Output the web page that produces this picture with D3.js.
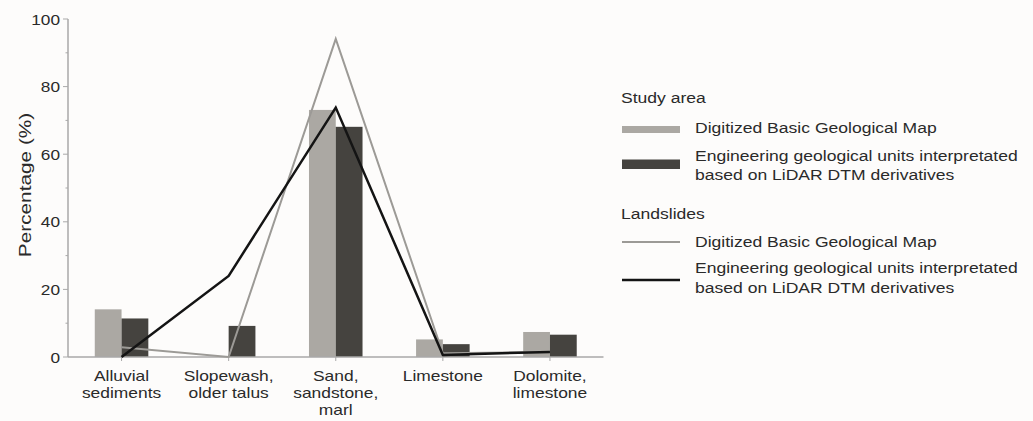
<!DOCTYPE html>
<html><head><meta charset="utf-8">
<script src="https://cdn.jsdelivr.net/npm/d3@7"></script>
<style>body{margin:0;background:#fdfcfb}svg{display:block}</style>
</head><body>
<script>
const categories = [["Alluvial","sediments"],["Slopewash,","older talus"],["Sand,","sandstone,","marl"],["Limestone"],["Dolomite,","limestone"]];
const studyDigitized = [14.1, 0, 73.1, 5.2, 7.4];
const studyEngineering = [11.4, 9.2, 68.1, 3.8, 6.6];
const slidesDigitized = [2.9, 0, 94.1, 1.1, 1.5];
const slidesEngineering = [0, 24.0, 73.8, 0.6, 1.5];
const yTicks = [0, 20, 40, 60, 80, 100];
const yMinorTicks = [10, 30, 50, 70, 90];
const legendStudy = ["Digitized Basic Geological Map", ["Engineering geological units interpretated","based on LiDAR DTM derivatives"]];
const legendSlides = ["Digitized Basic Geological Map", ["Engineering geological units interpretated","based on LiDAR DTM derivatives"]];

const W = 1033, H = 421;
const C = {light:"#aba8a3", dark:"#45433f", lineLight:"#9c9a96", lineDark:"#141414", axis:"#a9a9a9", text:"#2a2a2a"};
const FONT = "'Liberation Sans', Arial, sans-serif";
const svg = d3.select("body").append("svg").attr("width", W).attr("height", H);
svg.append("rect").attr("width", W).attr("height", H).attr("fill", "#fdfcfb");

const x0 = 68, x1 = 603.5, yTop = 19, yBot = 357;
const x = d3.scaleBand().domain(d3.range(categories.length)).range([x0, x1]).paddingInner(0).paddingOuter(0);
const y = d3.scaleLinear().domain([0, 100]).range([yBot, yTop]);
const barW = x.bandwidth() / 4;

function stext(g, tx, ty, str, size, sx, anchor, color) {
  const t = g.append("g").attr("transform", `translate(${tx},${ty}) scale(${sx},1)`)
    .append("text").attr("font-family", FONT).attr("font-size", size)
    .attr("fill", color || C.text).attr("text-anchor", anchor || "start").text(str);
  return t;
}

// bars
const bars = svg.append("g");
bars.selectAll("rect.l").data(studyDigitized).join("rect")
  .attr("x", (d,i) => x(i) + x.bandwidth()/2 - barW).attr("width", barW)
  .attr("y", d => y(d)).attr("height", d => y(0) - y(d)).attr("fill", C.light);
bars.selectAll("rect.d").data(studyEngineering).join("rect").attr("class","d")
  .attr("x", (d,i) => x(i) + x.bandwidth()/2).attr("width", barW)
  .attr("y", d => y(d)).attr("height", d => y(0) - y(d)).attr("fill", C.dark);

// axes
const ax = svg.append("g");
ax.append("line").attr("x1", x0).attr("x2", x0).attr("y1", yTop).attr("y2", yBot).attr("stroke", C.axis).attr("stroke-width", 1.5);
ax.append("line").attr("x1", x0).attr("x2", x1).attr("y1", yBot).attr("y2", yBot).attr("stroke", C.axis).attr("stroke-width", 1.5);
ax.selectAll("line.mj").data(yTicks).join("line").attr("class","mj")
  .attr("x1", x0 - 5).attr("x2", x0).attr("y1", d => y(d)).attr("y2", d => y(d)).attr("stroke", C.axis);
ax.selectAll("line.mn").data(yMinorTicks).join("line").attr("class","mn")
  .attr("x1", x0 - 2.5).attr("x2", x0).attr("y1", d => y(d)).attr("y2", d => y(d)).attr("stroke", C.axis);
ax.selectAll("line.xt").data(d3.range(categories.length)).join("line").attr("class","xt")
  .attr("x1", i => x(i) + x.bandwidth()/2).attr("x2", i => x(i) + x.bandwidth()/2)
  .attr("y1", yBot).attr("y2", yBot + 4).attr("stroke", C.axis);
yTicks.forEach(v => stext(ax, 60, y(v) + 5.5, String(v), 15, 1.15, "end"));
categories.forEach((lines, i) => {
  lines.forEach((s, k) => stext(ax, x(i) + x.bandwidth()/2, 381 + k * 17, s, 15, 1.16, "middle"));
});
// y label
const yl = svg.append("g").attr("transform", `translate(31,185) rotate(-90) scale(1.3,1)`);
yl.append("text").attr("font-family", FONT).attr("font-size", 16).attr("fill", C.text)
  .attr("text-anchor", "middle").text("Percentage (%)");

// lines
const cx = i => x(i) + x.bandwidth()/2;
const lineGen = d3.line().x((d,i) => cx(i)).y(d => y(d));
svg.append("path").datum(slidesDigitized).attr("d", lineGen).attr("fill","none")
  .attr("stroke", C.lineLight).attr("stroke-width", 2).attr("stroke-linejoin","miter");
svg.append("path").datum(slidesEngineering).attr("d", lineGen).attr("fill","none")
  .attr("stroke", C.lineDark).attr("stroke-width", 2.5).attr("stroke-linejoin","miter");

// legend
const lg = svg.append("g");
const LS = 1.17;
stext(lg, 621, 103, "Study area", 15, LS);
lg.append("rect").attr("x", 622).attr("y", 126).attr("width", 58).attr("height", 7).attr("fill", C.light);
stext(lg, 695, 133, legendStudy[0], 15, LS);
lg.append("rect").attr("x", 622).attr("y", 159.5).attr("width", 58).attr("height", 9.5).attr("fill", C.dark);
stext(lg, 695, 160.5, legendStudy[1][0], 15, LS);
stext(lg, 695, 180, legendStudy[1][1], 15, LS);
stext(lg, 621, 219, "Landslides", 15, LS);
lg.append("line").attr("x1", 622).attr("x2", 680).attr("y1", 242).attr("y2", 242).attr("stroke", C.lineLight).attr("stroke-width", 2);
stext(lg, 695, 246.5, legendSlides[0], 15, LS);
lg.append("line").attr("x1", 622).attr("x2", 680).attr("y1", 280).attr("y2", 280).attr("stroke", C.lineDark).attr("stroke-width", 2.5);
stext(lg, 695, 273, legendSlides[1][0], 15, LS);
stext(lg, 695, 292.5, legendSlides[1][1], 15, LS);
</script>
</body></html>
